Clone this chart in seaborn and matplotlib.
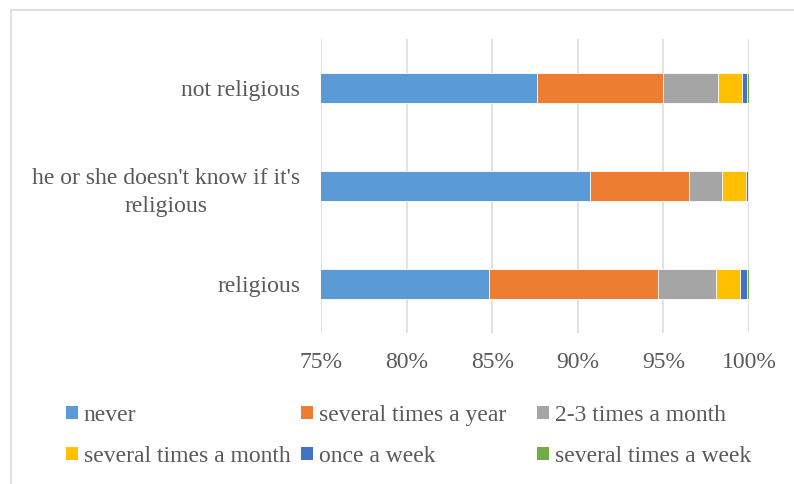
import numpy as np
import pandas as pd
import matplotlib
matplotlib.use("Agg")
import matplotlib.pyplot as plt
from matplotlib.patches import Patch
from matplotlib.lines import Line2D
from matplotlib.ticker import PercentFormatter
import seaborn as sns

# Respondent groups (top to bottom) and frequency answers (share of respondents, %)
groups = ["not religious", "he or she doesn't know if it's\nreligious", "religious"]
answers = ["never", "several times a year", "2-3 times a month",
           "several times a month", "once a week", "several times a week"]
never = [87.6, 90.7, 84.8]
several_year = [7.4, 5.8, 9.9]
two_three_month = [3.2, 1.9, 3.4]
several_month = [1.4, 1.4, 1.4]
once_week = [0.3, 0.15, 0.4]
several_week = [0.1, 0.05, 0.1]
palette = ["#5B9BD5", "#ED7D31", "#A5A5A5", "#FFC000", "#4472C4", "#70AD47"]
tick_values = [0.75, 0.80, 0.85, 0.90, 0.95, 1.00]

series = [never, several_year, two_three_month, several_month, once_week, several_week]
df = pd.DataFrame({a: s for a, s in zip(answers, series)}, index=groups) / 100.0
cum = df.cumsum(axis=1)

sns.set_theme(style="white")
plt.rcParams["font.family"] = ["Liberation Serif", "DejaVu Serif"]
text_color = "#595959"

fig = plt.figure(figsize=(7.94, 4.84), dpi=100)
ax = fig.add_axes([321 / 794, 1 - 333 / 484, (749 - 321) / 794, (333 - 39) / 484])

# Stacked bars: draw cumulative totals from the outermost layer inward
for answer, color in reversed(list(zip(answers, palette))):
    layer = pd.DataFrame({"group": groups, "value": cum[answer].values})
    sns.barplot(data=layer, x="value", y="group", orient="h", color=color,
                saturation=1, width=0.305, edgecolor="white", linewidth=0.6,
                ax=ax, order=groups, zorder=3)

ax.set_xlim(0.75, 1.0)
ax.set_ylim(2.5, -0.5)
ax.set_xticks(tick_values)
ax.xaxis.set_major_formatter(PercentFormatter(1.0, decimals=0))
ax.grid(axis="x", color="#D9D9D9", linewidth=1.1, zorder=0)
ax.grid(axis="y", visible=False)
ax.set_axisbelow(True)
for s in ax.spines.values():
    s.set_visible(False)
ax.set_xlabel("")
ax.set_ylabel("")
ax.tick_params(axis="x", length=0, pad=14, labelsize=17, labelcolor=text_color)
ax.tick_params(axis="y", length=0, pad=15, labelsize=17, labelcolor=text_color)
for lbl in ax.get_yticklabels():
    lbl.set_multialignment("center")
    lbl.set_linespacing(1.45)

# Legend laid out in three fixed-width columns
cols = [(66, [0, 3]), (301, [1, 4]), (537, [2, 5])]
for x0, idx in cols:
    handles = [Patch(facecolor=palette[i], edgecolor="none") for i in idx]
    labels = [answers[i] for i in idx]
    fig.legend(handles, labels, loc="upper left",
               bbox_to_anchor=(x0 / 794, 1 - 405 / 484),
               frameon=False, fontsize=17, handlelength=0.5,
               handleheight=0.5, handletextpad=0.25, labelspacing=0.85,
               borderpad=0, borderaxespad=0, labelcolor=text_color)

# Chart area border (top and left edges)
top = 1 - 9.5 / 484
left = 10.5 / 794
fig.add_artist(Line2D([left, 1.0], [top, top], transform=fig.transFigure,
                      color="#D9D9D9", linewidth=1.2))
fig.add_artist(Line2D([left, left], [0.0, top], transform=fig.transFigure,
                      color="#D9D9D9", linewidth=1.2))

fig.savefig("out.png", dpi=100)
